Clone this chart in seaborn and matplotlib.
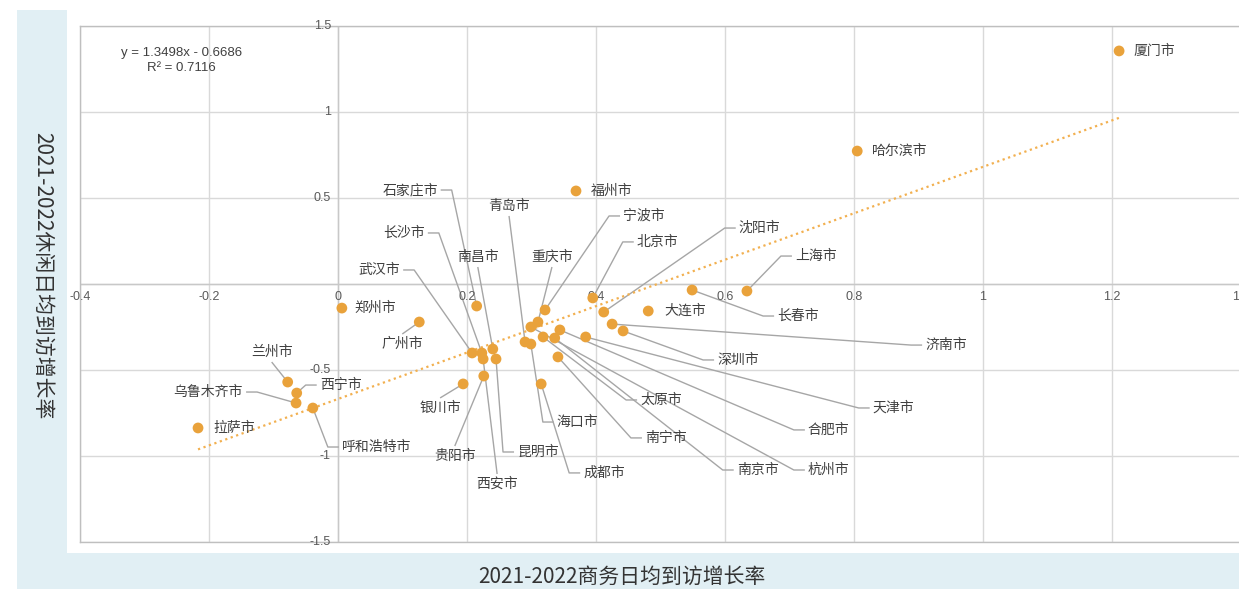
import numpy as np
import pandas as pd
import matplotlib
matplotlib.use('Agg')
import matplotlib.pyplot as plt
import seaborn as sns
from matplotlib.patches import Rectangle

# data
cities = ['厦门市', '哈尔滨市', '福州市', '上海市', '长春市', '大连市', '沈阳市', '北京市',
          '宁波市', '重庆市', '杭州市', '青岛市', '海口市', '太原市', '南京市', '合肥市',
          '南宁市', '成都市', '天津市', '济南市', '深圳市', '石家庄市', '武汉市', '长沙市',
          '西安市', '南昌市', '昆明市', '贵阳市', '银川市', '广州市', '郑州市', '兰州市',
          '西宁市', '乌鲁木齐市', '呼和浩特市', '拉萨市']
biz_growth = [1.211, 0.805, 0.369, 0.634, 0.549, 0.481, 0.412, 0.395,
              0.321, 0.310, 0.299, 0.290, 0.299, 0.318, 0.336, 0.344,
              0.341, 0.315, 0.384, 0.425, 0.442, 0.215, 0.208, 0.223,
              0.225, 0.240, 0.245, 0.226, 0.194, 0.126, 0.006, -0.078,
              -0.064, -0.065, -0.039, -0.217]
leisure_growth = [1.355, 0.773, 0.541, -0.041, -0.035, -0.157, -0.163, -0.081,
                  -0.151, -0.221, -0.250, -0.337, -0.349, -0.308, -0.314, -0.267,
                  -0.424, -0.581, -0.308, -0.233, -0.273, -0.128, -0.401, -0.401,
                  -0.436, -0.378, -0.436, -0.535, -0.581, -0.221, -0.140, -0.570,
                  -0.634, -0.692, -0.721, -0.837]
slope, intercept, r2 = 1.3498, -0.6686, 0.7116
x_ticks = [-0.4, -0.2, 0, 0.2, 0.4, 0.6, 0.8, 1, 1.2, 1.4]
y_ticks = [1.5, 1, 0.5, -0.5, -1, -1.5]
x_title = '2021-2022商务日均到访增长率'
y_title = '2021-2022休闲日均到访增长率'

# label placement: pixel offset from dot (right, down) and leader side
label_pos = {
    '厦门市': (14, 0, None), '哈尔滨市': (15, 0, None), '福州市': (15, 0, None),
    '大连市': (16, 0, None), '郑州市': (13, 0, None), '拉萨市': (15, 0, None),
    '上海市': (48, -35, 'l'), '长春市': (85, 26, 'l'), '沈阳市': (135, -84, 'l'),
    '北京市': (44, -56, 'l'), '宁波市': (78, -94, 'l'), '西宁市': (23, -8, 'l'),
    '呼和浩特市': (29, 39, 'l'), '昆明市': (21, 93, 'l'), '海口市': (26, 78, 'l'),
    '成都市': (42, 89, 'l'), '太原市': (97, 63, 'l'), '南宁市': (87, 81, 'l'),
    '南京市': (182, 132, 'l'), '杭州市': (277, 143, 'l'), '合肥市': (248, 100, 'l'),
    '天津市': (287, 71, 'l'), '深圳市': (94, 29, 'l'), '济南市': (313, 21, 'l'),
    '石家庄市': (-39, -116, 'r'), '长沙市': (-57, -120, 'r'), '武汉市': (-72, -83, 'r'),
    '乌鲁木齐市': (-53, -11, 'r'),
    '重庆市': (14, -65, 'b'), '青岛市': (-16, -136, 'b'), '南昌市': (-15, -92, 'b'),
    '兰州市': (-16, -30, 'b'),
    '广州市': (-17, 22, 't'), '银川市': (-23, 24, 't'), '贵阳市': (-29, 80, 't'),
    '西安市': (14, 125, 't'),
}

orange = '#e9a23b'
blue_bg = '#e1eff4'
grid_c = '#d9d9d9'
tick_c = '#595959'
txt_c = '#404040'
lead_c = '#a6a6a6'
num_font = ['Liberation Sans', 'DejaVu Sans']

sns.set_style('white')
plt.rcParams['font.family'] = ['Noto Sans CJK SC', 'DejaVu Sans']
plt.rcParams['axes.unicode_minus'] = False

W, H = 1239, 589
fig = plt.figure(figsize=(W/100, H/100), dpi=100)
fig.patches.append(Rectangle((17/W, 0), 1-17/W, 1-10/H, transform=fig.transFigure,
                             facecolor=blue_bg, edgecolor='none', zorder=-10))
fig.patches.append(Rectangle((67/W, 1-553/H), 1-67/W, 553/H, transform=fig.transFigure,
                             facecolor='white', edgecolor='none', zorder=-9))

ax = fig.add_axes([80/W, 47/H, 1161/W, 516/H])
ax.set_zorder(1)
df = pd.DataFrame({'city': cities, 'biz': biz_growth, 'leisure': leisure_growth})
sns.scatterplot(data=df, x='biz', y='leisure', ax=ax, color=orange, s=60,
                edgecolor='none', linewidth=0, zorder=5, legend=False)

ax.set_xlim(-0.4, 1.4); ax.set_ylim(-1.5, 1.5)
ax.set_xticks(x_ticks); ax.set_yticks(y_ticks + [0])
ax.grid(True, color=grid_c, lw=1)
ax.set_axisbelow(True)
ax.tick_params(labelbottom=False, labelleft=False, length=0)
ax.set_xlabel(''); ax.set_ylabel('')
for s in ax.spines.values():
    s.set_color('#bfbfbf'); s.set_linewidth(1)
ax.axhline(0, color='#c8c8c8', lw=1, zorder=1)
ax.axvline(0, color='#c8c8c8', lw=1, zorder=1)

def fmt(v):
    v = round(v, 1) + 0.0
    return f'{v:g}'

for v in x_ticks:
    ax.annotate(fmt(v), xy=(v, 0), xytext=(0, -13), textcoords='offset pixels',
                ha='center', va='center', fontsize=9, color=tick_c,
                family=num_font, annotation_clip=False)
for v in y_ticks:
    ax.annotate(fmt(v), xy=(0, v), xytext=(-7, 0), textcoords='offset pixels',
                ha='right', va='center', fontsize=9, color=tick_c,
                family=num_font, annotation_clip=False)

# trend line
xs = np.array([min(biz_growth), max(biz_growth)])
ax.plot(xs, slope*xs + intercept, ls=(0, (1, 1.6)), color='#f2b050', lw=1.6, zorder=3)
ax.text(-0.243, 1.30, f'y = {slope}x - {abs(intercept)}\nR² = {r2}', ha='center', va='center',
        fontsize=9.5, color=txt_c, family=num_font, linespacing=1.25)

# labels with leader lines
inv = ax.transData.inverted()
for c, x, y in zip(cities, biz_growth, leisure_growth):
    ox, oy, side = label_pos[c]
    dx, dy = ax.transData.transform((x, y))
    axp, ayp = dx + ox, dy - oy
    ha = {'l': 'left', 'r': 'right'}.get(side, 'center') if side else 'left'
    tx, ty = inv.transform((axp, ayp))
    ax.text(tx, ty, c, ha=ha, va='center', fontsize=10, color=txt_c, zorder=6)
    if side is None:
        continue
    if side == 'l':
        pts = [(dx, dy), (axp - 14, ayp), (axp - 3, ayp)]
    elif side == 'r':
        pts = [(dx, dy), (axp + 14, ayp), (axp + 3, ayp)]
    elif side == 'b':
        pts = [(dx, dy), (axp, ayp - 10)]
    else:
        pts = [(dx, dy), (axp, ayp + 10)]
    dpts = inv.transform(pts)
    ax.plot(dpts[:, 0], dpts[:, 1], color=lead_c, lw=1, zorder=2, solid_capstyle='butt')

fig.text(622/W, 1-577/H, x_title, ha='center', va='center', fontsize=15, color='#333333')
fig.text(42/W, 1-276/H, y_title, ha='center', va='center', fontsize=15, color='#333333',
         rotation=270)

fig.savefig('out.png', dpi=100)
